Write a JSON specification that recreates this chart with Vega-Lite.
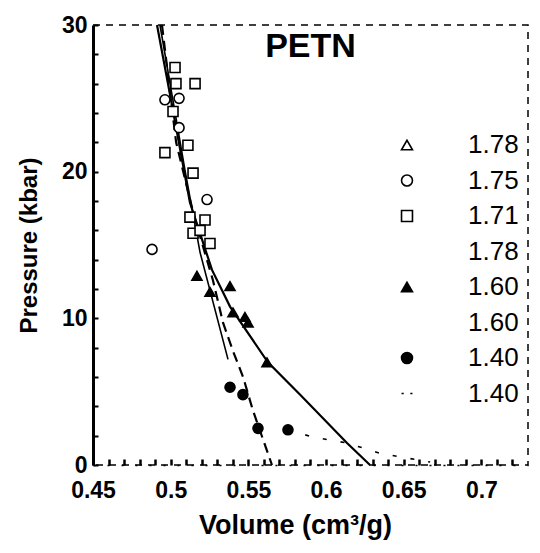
{
  "$schema": "https://vega.github.io/schema/vega-lite/v6.json",
  "width": 435,
  "height": 440,
  "autosize": "none",
  "padding": {"left": 93, "top": 25, "right": 12, "bottom": 88},
  "background": "white",
  "config": {
    "view": {"stroke": "black", "strokeDash": [7, 6], "strokeWidth": 1.5},
    "font": "Liberation Sans",
    "legend": {
      "title": null,
      "orient": "none",
      "legendX": 301,
      "legendY": 107,
      "labelFont": "Liberation Sans",
      "labelFontSize": 26,
      "labelColor": "black",
      "labelOffset": 48,
      "rowPadding": 9.5,
      "symbolSize": 120,
      "symbolStrokeWidth": 1.6,
      "symbolOpacity": 1
    }
  },
  "title": {
    "text": "PETN",
    "fontSize": 34,
    "fontWeight": "bold",
    "font": "Liberation Sans",
    "anchor": "middle",
    "offset": -50,
    "color": "black"
  },
  "datasets": {
    "pts": [
      {"v": 0.4963, "p": 24.9, "leg": "1.75b"},
      {"v": 0.5054, "p": 25.0, "leg": "1.75b"},
      {"v": 0.5054, "p": 23.0, "leg": "1.75b"},
      {"v": 0.5234, "p": 18.1, "leg": "1.75b"},
      {"v": 0.4880, "p": 14.7, "leg": "1.75b"},
      {"v": 0.5028, "p": 27.1, "leg": "1.71c"},
      {"v": 0.5157, "p": 26.0, "leg": "1.71c"},
      {"v": 0.5034, "p": 26.0, "leg": "1.71c"},
      {"v": 0.5015, "p": 24.1, "leg": "1.71c"},
      {"v": 0.5111, "p": 21.8, "leg": "1.71c"},
      {"v": 0.4963, "p": 21.3, "leg": "1.71c"},
      {"v": 0.5144, "p": 19.9, "leg": "1.71c"},
      {"v": 0.5124, "p": 16.9, "leg": "1.71c"},
      {"v": 0.5221, "p": 16.7, "leg": "1.71c"},
      {"v": 0.5144, "p": 15.8, "leg": "1.71c"},
      {"v": 0.5253, "p": 15.1, "leg": "1.71c"},
      {"v": 0.5189, "p": 16.0, "leg": "1.71c"},
      {"v": 0.5169, "p": 12.9, "leg": "1.60e"},
      {"v": 0.5253, "p": 11.8, "leg": "1.60e"},
      {"v": 0.5382, "p": 12.2, "leg": "1.60e"},
      {"v": 0.5478, "p": 10.1, "leg": "1.60e"},
      {"v": 0.5401, "p": 10.4, "leg": "1.60e"},
      {"v": 0.5498, "p": 9.7, "leg": "1.60e"},
      {"v": 0.5620, "p": 7.0, "leg": "1.60e"},
      {"v": 0.5382, "p": 5.3, "leg": "1.40g"},
      {"v": 0.5465, "p": 4.8, "leg": "1.40g"},
      {"v": 0.5562, "p": 2.5, "leg": "1.40g"},
      {"v": 0.5755, "p": 2.4, "leg": "1.40g"}
    ],
    "lines": [
      {"v": 0.4912, "p": 30, "s": "F"},
      {"v": 0.5002, "p": 24.9, "s": "F"},
      {"v": 0.5124, "p": 17.9, "s": "F"},
      {"v": 0.5266, "p": 13.3, "s": "F"},
      {"v": 0.5382, "p": 10.8, "s": "F"},
      {"v": 0.5626, "p": 7.0, "s": "F"},
      {"v": 0.5832, "p": 4.8, "s": "F"},
      {"v": 0.6135, "p": 1.5, "s": "F"},
      {"v": 0.6283, "p": 0, "s": "F"},
      {"v": 0.4931, "p": 30, "s": "D"},
      {"v": 0.5092, "p": 20.1, "s": "D"},
      {"v": 0.5189, "p": 14.5, "s": "D"},
      {"v": 0.5369, "p": 7.2, "s": "D"},
      {"v": 0.4944, "p": 30, "s": "X"},
      {"v": 0.5035, "p": 22, "s": "X"},
      {"v": 0.5150, "p": 17, "s": "X"},
      {"v": 0.5272, "p": 12.6, "s": "X"},
      {"v": 0.5337, "p": 9.7, "s": "X"},
      {"v": 0.5400, "p": 7.8, "s": "X"},
      {"v": 0.5466, "p": 6.0, "s": "X"},
      {"v": 0.5530, "p": 3.7, "s": "X"},
      {"v": 0.5652, "p": 0, "s": "X"},
      {"v": 0.5755, "p": 2.4, "s": "H"},
      {"v": 0.5916, "p": 1.9, "s": "H"},
      {"v": 0.6135, "p": 1.5, "s": "H"},
      {"v": 0.6347, "p": 0.8, "s": "H"},
      {"v": 0.6670, "p": 0.2, "s": "H"}
    ]
  },
  "encoding": {
    "x": {
      "field": "v",
      "type": "quantitative",
      "scale": {"domain": [0.45, 0.73], "nice": false, "zero": false},
      "axis": {
        "title": "Volume  (cm³/g)",
        "values": [0.45,0.46,0.47,0.48,0.49,0.5,0.51,0.52,0.53,0.54,0.55,0.56,0.57,0.58,0.59,0.6,0.61,0.62,0.63,0.64,0.65,0.66,0.67,0.68,0.69,0.7,0.71,0.72],
        "labelExpr": "round(datum.value*100) % 5 == 0 ? toString(round(datum.value*100)/100) : ''",
        "labelFontSize": 23,
        "labelFontWeight": "bold",
        "labelColor": "black",
        "labelPadding": 20,
        "labelFlush": false,
        "labelOverlap": false,
        "tickSize": -6,
        "tickWidth": 2.5,
        "tickColor": "black",
        "domainColor": "black",
        "domainDash": [2, 12],
        "domainWidth": 1.5,
        "grid": false,
        "titleFontSize": 27,
        "titleFontWeight": "bold",
        "titleColor": "black",
        "titlePadding": 10,
        "titleX": 202
      }
    },
    "y": {
      "field": "p",
      "type": "quantitative",
      "scale": {"domain": [0, 30], "nice": false},
      "axis": {
        "title": "Pressure (kbar)",
        "values": [0,2,4,6,8,10,12,14,16,18,20,22,24,26,28,30],
        "labelExpr": "datum.value % 10 == 0 ? toString(datum.value) : ''",
        "labelFontSize": 23,
        "labelFontWeight": "bold",
        "labelColor": "black",
        "labelPadding": 11,
        "labelFlush": false,
        "labelOverlap": false,
        "tickSize": -5,
        "tickWidth": 2,
        "tickColor": "black",
        "domainColor": "black",
        "domainWidth": 3,
        "grid": false,
        "titleFontSize": 24,
        "titleFontWeight": "bold",
        "titleColor": "black",
        "titlePadding": 20
      }
    }
  },
  "layer": [
    {
      "data": {"name": "lines"},
      "transform": [{"filter": "datum.s == 'F'"}],
      "mark": {"type": "line", "color": "black", "strokeWidth": 2.2},
      "encoding": {}
    },
    {
      "data": {"name": "lines"},
      "transform": [{"filter": "datum.s == 'D'"}],
      "mark": {"type": "line", "color": "black", "strokeWidth": 1.6},
      "encoding": {}
    },
    {
      "data": {"name": "lines"},
      "transform": [{"filter": "datum.s == 'X'"}],
      "mark": {"type": "line", "color": "black", "strokeWidth": 2.2, "strokeDash": [10, 6]},
      "encoding": {}
    },
    {
      "data": {"name": "lines"},
      "transform": [{"filter": "datum.s == 'H'"}],
      "mark": {"type": "line", "color": "black", "strokeWidth": 1.6, "strokeDash": [4, 14]},
      "encoding": {}
    },
    {
      "data": {"name": "pts"},
      "mark": {"type": "point", "filled": false, "strokeWidth": 1.6, "size": 100, "opacity": 1},
      "encoding": {
        "shape": {
          "field": "leg",
          "type": "nominal",
          "scale": {
            "domain": ["1.78a", "1.75b", "1.71c", "1.78d", "1.60e", "1.60f", "1.40g", "1.40h"],
            "range": ["triangle-up", "circle", "square", "M0,0", "triangle-up", "M0,0", "circle", "M-1,0H-0.6M0.6,0H1"]
          },
          "legend": {"labelExpr": "substring(datum.label, 0, 4)"}
        },
        "stroke": {
          "field": "leg",
          "type": "nominal",
          "scale": {
            "domain": ["1.78a", "1.75b", "1.71c", "1.78d", "1.60e", "1.60f", "1.40g", "1.40h"],
            "range": ["black", "black", "black", "black", "black", "black", "black", "black"]
          },
          "legend": {"labelExpr": "substring(datum.label, 0, 4)"}
        },
        "fill": {
          "field": "leg",
          "type": "nominal",
          "scale": {
            "domain": ["1.78a", "1.75b", "1.71c", "1.78d", "1.60e", "1.60f", "1.40g", "1.40h"],
            "range": ["white", "white", "white", "white", "black", "white", "black", "white"]
          },
          "legend": {"labelExpr": "substring(datum.label, 0, 4)"}
        }
      }
    }
  ]
}
